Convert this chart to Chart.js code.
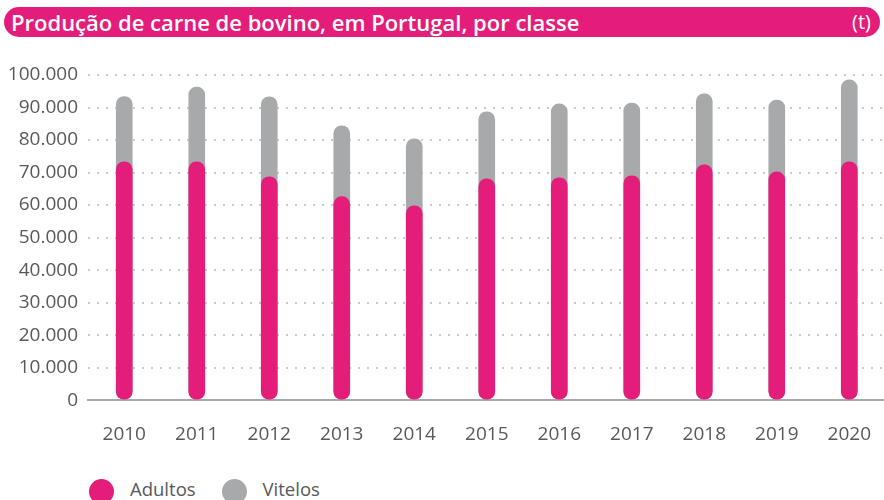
<!DOCTYPE html>
<html>
<head>
<meta charset="utf-8">
<script src="https://cdn.jsdelivr.net/npm/chart.js@4/dist/chart.umd.min.js"></script>
<style>
  html, body { margin: 0; padding: 0; background: #fff; }
  body { width: 884px; height: 500px; position: relative; overflow: hidden; font-family: "Open Sans", sans-serif; }
  #title {
    position: absolute; left: 4px; top: 7px; width: 876px; height: 30px;
    background: #e31d79; border-radius: 15px; color: #fff;
    font-weight: 600; font-size: 22px; line-height: 30px; box-sizing: border-box; padding: 0 9px 0 7px;
  }
  #title .unit { position: absolute; right: 9px; top: 0; font-weight: 400; font-size: 20px; }
  #wrap { position: absolute; left: 0; top: 40px; width: 894px; height: 429px; }
  #legend { position: absolute; left: 89px; top: 476px; font-size: 18.5px; color: #58595b; }
  #legend span.item { display: inline-block; margin-right: 26px; }
  #legend i { display: inline-block; width: 25px; height: 25px; border-radius: 50%; vertical-align: middle; margin-right: 16px; }
</style>
</head>
<body>
<div id="title">Produção de carne de bovino, em Portugal, por classe<span class="unit">(t)</span></div>
<div id="wrap"><canvas id="myChart"></canvas></div>
<div id="legend"></div>
<script>
// valores (toneladas)
const years = ['2010', '2011', '2012', '2013', '2014', '2015', '2016', '2017', '2018', '2019', '2020'];
const adultos = [73300, 73300, 68700, 62600, 59800, 68100, 68400, 69000, 72400, 70200, 73300];
const vitelos = [20100, 23000, 24600, 21800, 20600, 20600, 22700, 22400, 21800, 22100, 25200];
const seriesNames = ['Adultos', 'Vitelos'];
const colors = ['#e31d79', '#a7a9aa'];

// barra cinzenta = total, desenhada atrás da rosa
const totals = adultos.map((v, i) => v + vitelos[i]);

const legend = document.getElementById('legend');
seriesNames.forEach((n, i) => {
  legend.innerHTML += '<span class="item"><i style="background:' + colors[i] + '"></i>' + n + '</span>';
});

const ctx = document.getElementById('myChart').getContext('2d');
new Chart(ctx, {
  type: 'bar',
  data: {
    labels: years,
    datasets: [
      { label: seriesNames[0], data: adultos, backgroundColor: colors[0] },
      { label: seriesNames[1], data: totals, backgroundColor: colors[1] }
    ]
  },
  options: {
    responsive: true,
    maintainAspectRatio: false,
    animation: false,
    datasets: { bar: { grouped: false, barThickness: 16, borderRadius: 8, borderSkipped: false } },
    layout: { padding: { top: 35, right: 0, left: 0, bottom: 0 } },
    plugins: { legend: { display: false }, tooltip: { enabled: false } },
    scales: {
      x: {
        grid: { display: false, drawTicks: false },
        border: { color: '#a7a9aa', width: 2 },
        ticks: { color: '#58595b', font: { family: 'Open Sans', size: 19 }, padding: 23 }
      },
      y: {
        min: 0, max: 100000,
        afterFit: s => { s.width = 88; },
        grid: { color: '#c9cacb', lineWidth: 2, drawTicks: false },
        border: { display: false, dash: [2, 7] },
        ticks: {
          stepSize: 10000, padding: 10, color: '#58595b',
          font: { family: 'Open Sans', size: 19 },
          callback: v => v.toLocaleString('de-DE')
        }
      }
    }
  }
});
</script>
</body>
</html>
